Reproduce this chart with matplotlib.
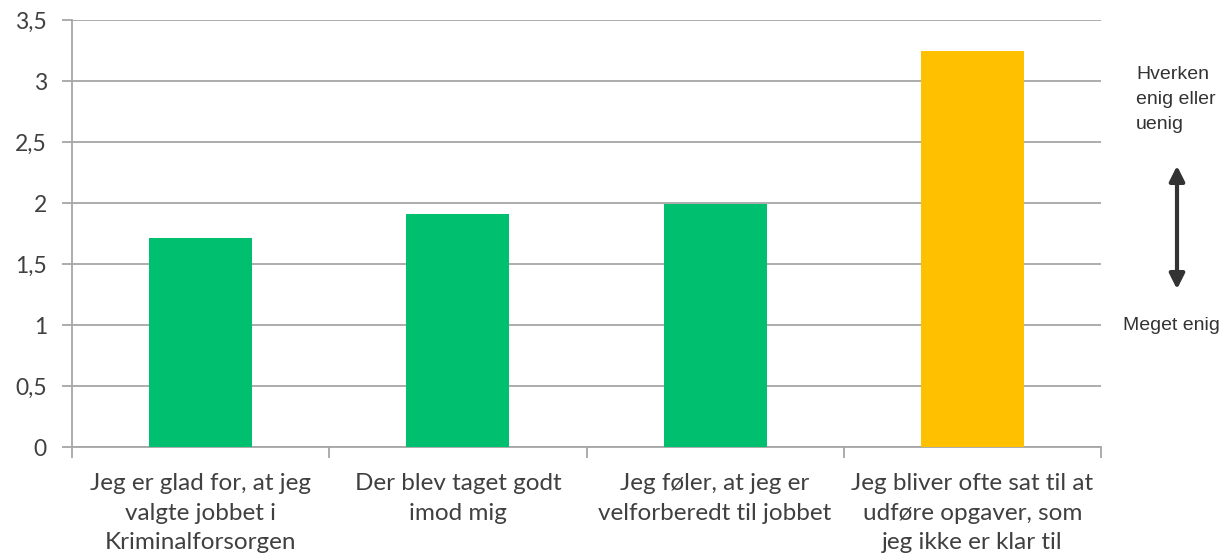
import matplotlib
matplotlib.use("Agg")
import matplotlib.pyplot as plt
import numpy as np

# data
categories = [
    "Jeg er glad for, at jeg\nvalgte jobbet i\nKriminalforsorgen",
    "Der blev taget godt\nimod mig",
    "Jeg føler, at jeg er\nvelforberedt til jobbet",
    "Jeg bliver ofte sat til at\nudføre opgaver, som\njeg ikke er klar til",
]
values = [1.71, 1.91, 1.99, 3.25]
bar_colors = ["#00BF6F", "#00BF6F", "#00BF6F", "#FFC000"]
yticks = [0, 0.5, 1, 1.5, 2, 2.5, 3, 3.5]
ytick_labels = ["0", "0,5", "1", "1,5", "2", "2,5", "3", "3,5"]

grid_col = "#A6A6A6"
text_col = "#404040"

fig = plt.figure(figsize=(12.29, 5.59), dpi=100)
ax = fig.add_axes([72 / 1229, 1 - 447 / 559, 1029 / 1229, 427 / 559])

x = np.arange(len(categories))
ax.bar(x, values, width=0.4, color=bar_colors, zorder=3)

ax.set_xlim(-0.5, len(categories) - 0.5)
ax.set_ylim(0, 3.5)
ax.set_yticks(yticks)
ax.set_yticklabels(ytick_labels, fontsize=16.5, color=text_col, family="Lato")
ax.yaxis.grid(True, color=grid_col, linewidth=1.3, zorder=0)

# category labels centred, ticks at category boundaries
ax.set_xticks(x)
ax.set_xticklabels(categories, fontsize=17.5, color=text_col, family="Lato",
                   linespacing=1.5)
ax.tick_params(axis="x", length=0, pad=19)
ax.set_xticks(np.arange(-0.5, len(categories)), minor=True)
ax.tick_params(axis="x", which="minor", length=8, color=grid_col, width=1.3)
ax.tick_params(axis="y", length=7, color=grid_col, width=1.3, pad=11)

for s in ["top", "right"]:
    ax.spines[s].set_visible(False)
for s in ["left", "bottom"]:
    ax.spines[s].set_color(grid_col)
    ax.spines[s].set_linewidth(1.3)

# scale annotation at the right
fig.text(1136 / 1229, 1 - 66 / 559, "Hverken\nenig eller\nuenig", fontsize=14,
         family="Liberation Sans", color="#333333", va="top", ha="left",
         linespacing=1.6)
fig.text(1123 / 1229, 1 - 326 / 559, "Meget enig", fontsize=14,
         family="Liberation Sans", color="#333333", va="center", ha="left")
fig.patches.append(matplotlib.patches.FancyArrowPatch(
    (1177 / 1229, 1 - 163 / 559), (1177 / 1229, 1 - 292 / 559),
    transform=fig.transFigure, arrowstyle="<|-|>,head_length=6,head_width=3",
    color="#333333", linewidth=3, mutation_scale=1.5))

fig.savefig("out.png", dpi=100)
